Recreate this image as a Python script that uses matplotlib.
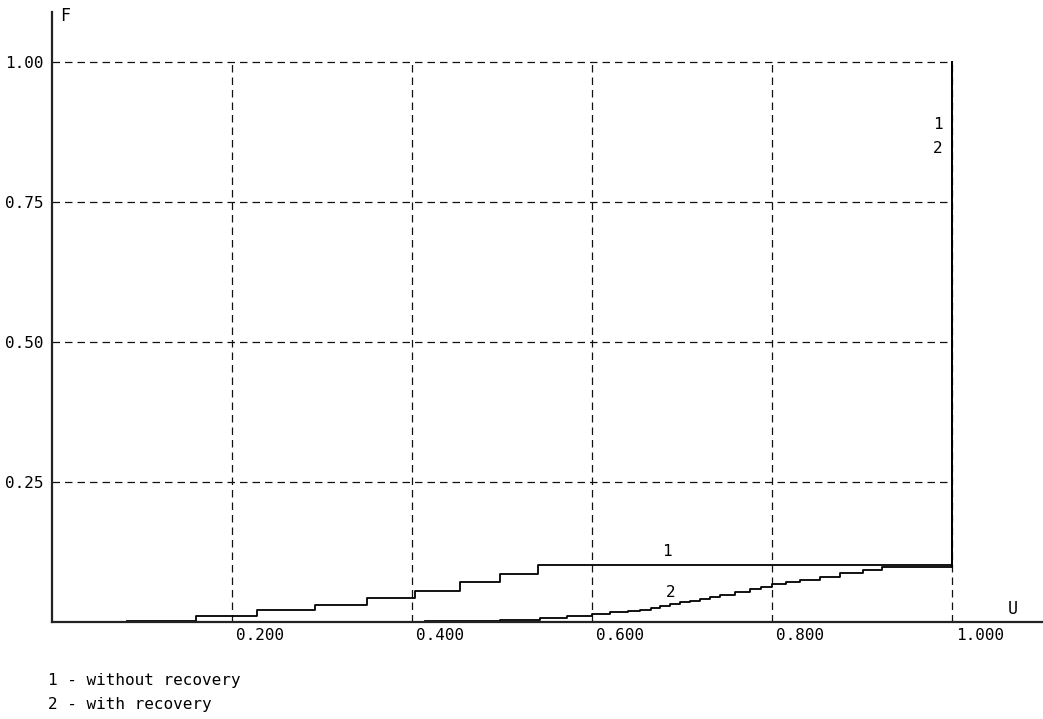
import matplotlib
matplotlib.use('Agg')
import matplotlib.pyplot as plt
import matplotlib.transforms as mtransforms

# curve 1 - without recovery (staircase)
u_without = [0.083, 0.160, 0.228, 0.292, 0.350, 0.403, 0.453, 0.498, 0.540, 1.000, 1.000]
f_without = [0.002, 0.010, 0.021, 0.031, 0.043, 0.056, 0.072, 0.085, 0.101, 0.101, 1.000]

# curve 2 - with recovery
u_with = [0.414, 0.498, 0.542, 0.572, 0.600, 0.620, 0.640, 0.653, 0.665, 0.676, 0.687,
          0.698, 0.709, 0.720, 0.731, 0.742, 0.759, 0.776, 0.788, 0.800, 0.816, 0.831,
          0.853, 0.876, 0.901, 0.922, 0.970, 1.000, 1.000]
f_with = [0.002, 0.004, 0.007, 0.011, 0.015, 0.018, 0.020, 0.022, 0.025, 0.028, 0.032,
          0.035, 0.038, 0.041, 0.045, 0.049, 0.054, 0.059, 0.063, 0.067, 0.071, 0.075,
          0.080, 0.087, 0.093, 0.098, 0.099, 0.100, 1.000]

x_ticks = [0.2, 0.4, 0.6, 0.8, 1.0]
x_labels = ['0.200', '0.400', '0.600', '0.800', '1.000']
y_ticks = [0.25, 0.5, 0.75, 1.0]
y_labels = ['0.25', '0.50', '0.75', '1.00']

W, H = 1043, 719
fig = plt.figure(figsize=(W / 100, H / 100), dpi=100)
plt.rcParams['font.family'] = 'DejaVu Sans Mono'

# axes: left edge at px 52 (U=0), bottom at px 622 (F=0)
ax = fig.add_axes([52 / W, 97 / H, (1042 - 52) / W, 610 / H])
ax.set_xlim(0, (1042 - 52) / 900)
ax.set_ylim(0, 610 / 560)

for s in ['top', 'right']:
    ax.spines[s].set_visible(False)
for s in ['left', 'bottom']:
    ax.spines[s].set_color('#222222')
    ax.spines[s].set_linewidth(1.6)

# dashed grid only inside the unit square
dash = (0, (6, 4))
for yv in y_ticks:
    ax.plot([0, 1.0], [yv, yv], color='#111111', lw=0.9, linestyle=dash)
for xv in x_ticks:
    ax.plot([xv, xv], [0, 1.0], color='#111111', lw=0.9, linestyle=dash)

ax.plot(u_without, f_without, drawstyle='steps-post', color='black', lw=1.3)
ax.plot(u_with, f_with, drawstyle='steps-post', color='black', lw=1.3)

ax.set_xticks(x_ticks, x_labels)
ax.set_yticks(y_ticks, y_labels)
ax.tick_params(axis='both', length=0, labelsize=11.5, colors='black')
ax.tick_params(axis='x', pad=4)
ax.tick_params(axis='y', pad=6)
offset = mtransforms.ScaledTranslation(4 / 100, 0, fig.dpi_scale_trans)
for lab in ax.get_xticklabels():
    lab.set_horizontalalignment('left')
    lab.set_transform(lab.get_transform() + offset)

# axis names
fig.text(60 / W, 1 - 16 / H, 'F', fontsize=12, ha='left', va='center')
fig.text(1008 / W, 1 - 609 / H, 'U', fontsize=12, ha='left', va='center')

# curve labels
ax.text(0.683, 0.125, '1', fontsize=11.5, ha='center', va='center')
ax.text(0.687, 0.052, '2', fontsize=11.5, ha='center', va='center')
ax.text(0.984, 0.889, '1', fontsize=11.5, ha='center', va='center')
ax.text(0.984, 0.845, '2', fontsize=11.5, ha='center', va='center')

fig.text(48 / W, 1 - 680 / H, '1 - without recovery', fontsize=11.5, ha='left', va='center')
fig.text(48 / W, 1 - 705 / H, '2 - with recovery', fontsize=11.5, ha='left', va='center')

fig.savefig('out.png', dpi=100)
